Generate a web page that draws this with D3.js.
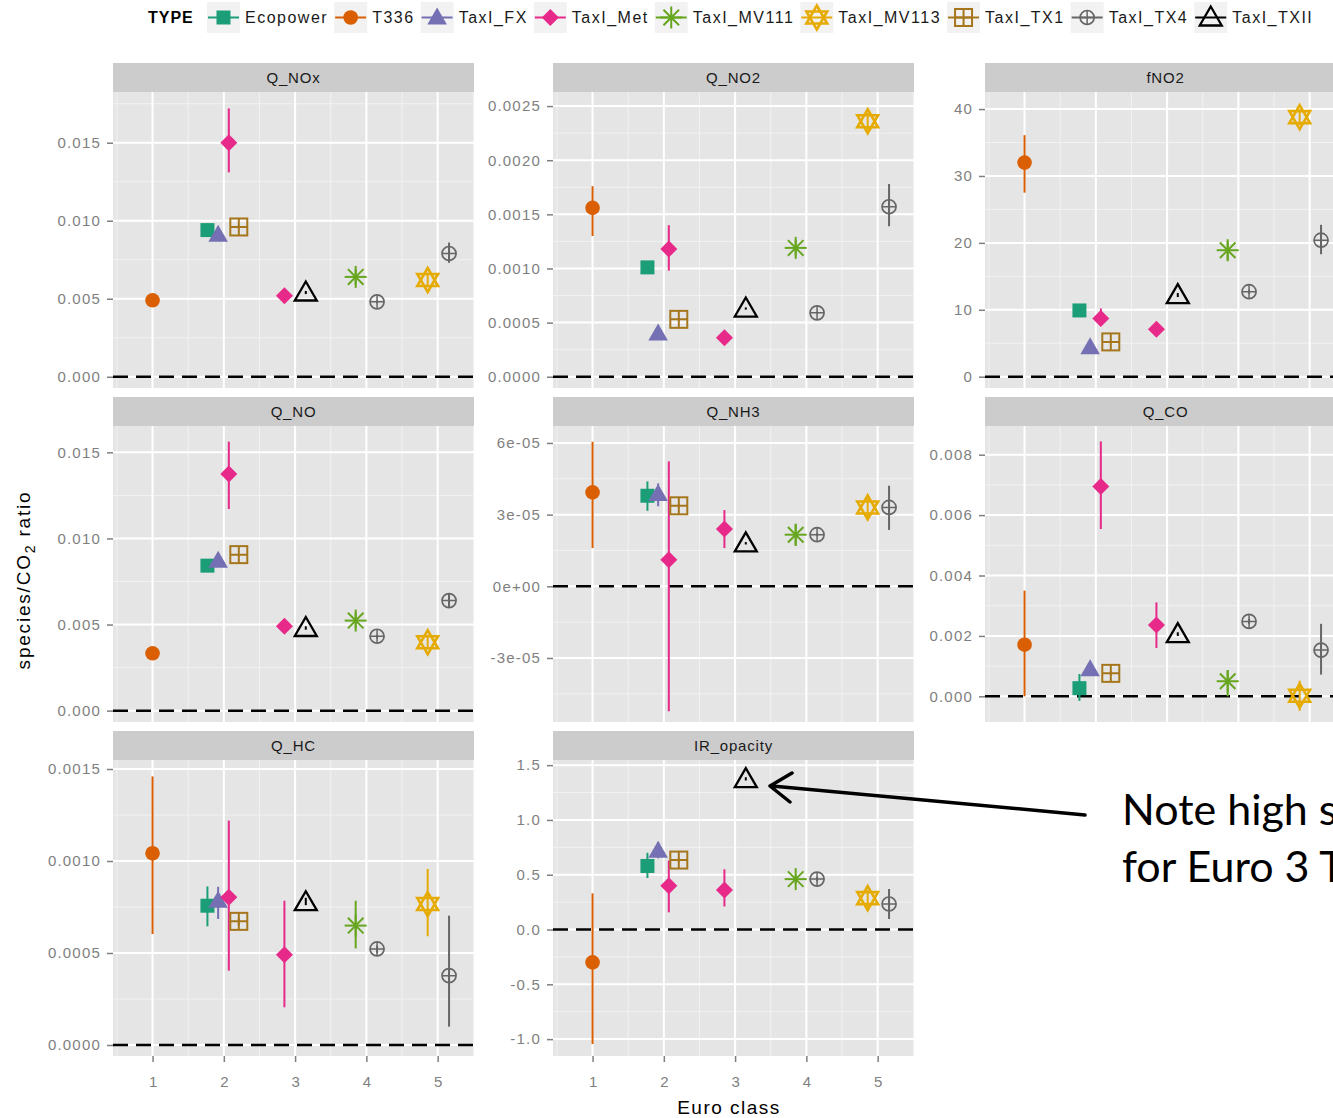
<!DOCTYPE html>
<html>
<head>
<meta charset="utf-8">
<script src="https://d3js.org/d3.v7.min.js"></script>
<style>
  body { margin: 0; background: #fff; }
  svg { display: block; }
</style>
</head>
<body>
<svg id="chart" width="1333" height="1118"></svg>
<script>
// ---- data ----
const TYPES = ["Ecopower", "T336", "TaxI_FX", "TaxI_Met", "TaxI_MV111", "TaxI_MV113", "TaxI_TX1", "TaxI_TX4", "TaxI_TXII"];
const TYPE_COLORS = ["#1B9E77", "#D95F02", "#7570B3", "#E7298A", "#66A61E", "#E6AB02", "#A6761D", "#666666", "#000000"];

const EURO_CLASSES = [1, 2, 3, 4, 5];

// one entry per plotted point (type, euro class, dodge offset)
const POINT_TYPE  = ["T336", "Ecopower", "TaxI_FX", "TaxI_Met", "TaxI_TX1", "TaxI_Met", "TaxI_TXII", "TaxI_MV111", "TaxI_TX4", "TaxI_MV113", "TaxI_TX4"];
const POINT_EURO  = [1, 2, 2, 2, 2, 3, 3, 4, 4, 5, 5];
const POINT_DODGE = [0, -0.23, -0.08, 0.07, 0.21, -0.15, 0.15, -0.15, 0.15, -0.14, 0.16];

const PANELS = ["Q_NOx", "Q_NO2", "fNO2", "Q_NO", "Q_NH3", "Q_CO", "Q_HC", "IR_opacity"];
const PANEL_DOMAINS = [
  [-0.00072, 0.01825], [-0.000104, 0.00263], [-1.69, 42.55],
  [-0.00066, 0.01653], [-5.68e-5, 6.71e-5], [-0.00085, 0.00895],
  [-0.0000598, 0.001549], [-1.154, 1.547]
];
const PANEL_TICKS = [
  [0, 0.005, 0.010, 0.015],
  [0, 0.0005, 0.0010, 0.0015, 0.0020, 0.0025],
  [0, 10, 20, 30, 40],
  [0, 0.005, 0.010, 0.015],
  [-3e-5, 0, 3e-5, 6e-5],
  [0, 0.002, 0.004, 0.006, 0.008],
  [0, 0.0005, 0.0010, 0.0015],
  [-1.0, -0.5, 0.0, 0.5, 1.0, 1.5]
];
const PANEL_TICK_LABELS = [
  ["0.000", "0.005", "0.010", "0.015"],
  ["0.0000", "0.0005", "0.0010", "0.0015", "0.0020", "0.0025"],
  ["0", "10", "20", "30", "40"],
  ["0.000", "0.005", "0.010", "0.015"],
  ["-3e-05", "0e+00", "3e-05", "6e-05"],
  ["0.000", "0.002", "0.004", "0.006", "0.008"],
  ["0.0000", "0.0005", "0.0010", "0.0015"],
  ["-1.0", "-0.5", "0.0", "0.5", "1.0", "1.5"]
];

// values in POINT_* order
const Q_NOx_mean = [0.0049, 0.0094, 0.0091, 0.0150, 0.0096, 0.0052, 0.0054, 0.0064, 0.0048, 0.0062, 0.0079];
const Q_NOx_lo   = [0.0048, 0.0093, 0.0090, 0.0131, 0.0095, 0.0051, 0.0053, 0.0059, 0.0047, 0.0058, 0.0073];
const Q_NOx_hi   = [0.0050, 0.0095, 0.0092, 0.0172, 0.0097, 0.0053, 0.0055, 0.0069, 0.0049, 0.0066, 0.0086];

const Q_NO2_mean = [0.00156, 0.00101, 0.00040, 0.00118, 0.00053, 0.00036, 0.00063, 0.00119, 0.00059, 0.00236, 0.00157];
const Q_NO2_lo   = [0.00130, 0.00098, 0.00038, 0.00098, 0.00052, 0.00035, 0.00062, 0.00112, 0.00058, 0.00228, 0.00139];
const Q_NO2_hi   = [0.00176, 0.00106, 0.00042, 0.00140, 0.00054, 0.00037, 0.00064, 0.00126, 0.00060, 0.00244, 0.00178];

const fNO2_mean = [32.0, 9.9, 4.4, 8.7, 5.2, 7.1, 12.2, 18.9, 12.7, 38.8, 20.4];
const fNO2_lo   = [27.5, 9.6, 4.2, 7.6, 5.0, 6.8, 11.9, 17.4, 12.4, 37.6, 18.3];
const fNO2_hi   = [36.1, 10.2, 4.6, 10.2, 5.4, 7.4, 12.5, 20.2, 13.0, 40.0, 22.7];

const Q_NO_mean = [0.00333, 0.00842, 0.0087, 0.01374, 0.00906, 0.0049, 0.0048, 0.00523, 0.00432, 0.00397, 0.00639];
const Q_NO_lo   = [0.0032, 0.0083, 0.0086, 0.01171, 0.0090, 0.0048, 0.0047, 0.0048, 0.0042, 0.0036, 0.0060];
const Q_NO_hi   = [0.0035, 0.0085, 0.0088, 0.01562, 0.0091, 0.0050, 0.0049, 0.0057, 0.0044, 0.0043, 0.0068];

const Q_NH3_mean = [3.93e-5, 3.79e-5, 3.86e-5, 1.11e-5, 3.37e-5, 2.40e-5, 1.80e-5, 2.16e-5, 2.16e-5, 3.30e-5, 3.30e-5];
const Q_NH3_lo   = [1.60e-5, 3.16e-5, 3.35e-5, -5.23e-5, 3.30e-5, 1.60e-5, 1.75e-5, 1.70e-5, 2.10e-5, 2.90e-5, 2.36e-5];
const Q_NH3_hi   = [6.05e-5, 4.39e-5, 4.31e-5, 5.23e-5, 3.45e-5, 3.19e-5, 1.85e-5, 2.60e-5, 2.22e-5, 3.70e-5, 4.21e-5];

const Q_CO_mean = [0.00171, 0.00027, 0.0009, 0.00695, 0.00076, 0.00236, 0.00206, 0.0005, 0.00248, 0.00002, 0.00153];
const Q_CO_lo   = [0.0, -0.00015, 0.0007, 0.00554, 0.0007, 0.0016, 0.0020, 0.0, 0.0024, -0.00048, 0.00072];
const Q_CO_hi   = [0.0035, 0.00074, 0.0011, 0.00844, 0.00082, 0.00311, 0.00212, 0.00087, 0.00256, 0.00052, 0.0024];

const Q_HC_mean = [0.001042, 0.000757, 0.000784, 0.000803, 0.000672, 0.000491, 0.000776, 0.000649, 0.000522, 0.000766, 0.000377];
const Q_HC_lo   = [0.000603, 0.000645, 0.000685, 0.000404, 0.00065, 0.000205, 0.00076, 0.000525, 0.0005, 0.000591, 0.0000996];
const Q_HC_hi   = [0.00146, 0.000862, 0.00086, 0.00122, 0.00069, 0.000784, 0.00080, 0.000784, 0.00054, 0.000957, 0.000703];

const IR_opacity_mean = [-0.30, 0.58, 0.72, 0.40, 0.634, 0.36, 1.373, 0.46, 0.46, 0.287, 0.233];
const IR_opacity_lo   = [-1.045, 0.47, 0.65, 0.157, 0.62, 0.21, 1.36, 0.42, 0.44, 0.20, 0.096];
const IR_opacity_hi   = [0.33, 0.70, 0.80, 0.63, 0.65, 0.55, 1.39, 0.50, 0.48, 0.36, 0.37];

const PANEL_MEAN = [Q_NOx_mean, Q_NO2_mean, fNO2_mean, Q_NO_mean, Q_NH3_mean, Q_CO_mean, Q_HC_mean, IR_opacity_mean];
const PANEL_LO   = [Q_NOx_lo, Q_NO2_lo, fNO2_lo, Q_NO_lo, Q_NH3_lo, Q_CO_lo, Q_HC_lo, IR_opacity_lo];
const PANEL_HI   = [Q_NOx_hi, Q_NO2_hi, fNO2_hi, Q_NO_hi, Q_NH3_hi, Q_CO_hi, Q_HC_hi, IR_opacity_hi];

// ---- layout ----
const COL_LEFT = [113, 553, 985];
const ROW_TOP = [63, 397, 731];
const STRIP_H = 29;
const PANEL_W = 361;
const PANEL_H = 296;
const FONT = "'Liberation Sans', Arial, sans-serif";
const AXIS_GREY = "#7f7f7f";

const svg = d3.select("#chart");
const colorOf = d3.scaleOrdinal().domain(TYPES).range(TYPE_COLORS);

// ggplot-ish point shapes, drawn around 0,0
const drawShape = (sel, type) => {
  const c = colorOf(type);
  switch (type) {
    case "Ecopower":
      sel.append("rect").attr("x", -7).attr("y", -7).attr("width", 14).attr("height", 14).attr("fill", c);
      break;
    case "T336":
      sel.append("circle").attr("r", 7.3).attr("fill", c);
      break;
    case "TaxI_FX":
      sel.append("path").attr("d", "M0,-10L9.8,7L-9.8,7Z").attr("fill", c);
      break;
    case "TaxI_Met":
      sel.append("path").attr("d", "M0,-8.5L8.5,0L0,8.5L-8.5,0Z").attr("fill", c);
      break;
    case "TaxI_MV111":
      [0, 45, 90, 135].forEach(a => {
        const r = 11, dx = r * Math.cos(a * Math.PI / 180), dy = r * Math.sin(a * Math.PI / 180);
        sel.append("line").attr("x1", -dx).attr("y1", -dy).attr("x2", dx).attr("y2", dy)
          .attr("stroke", c).attr("stroke-width", 2);
      });
      break;
    case "TaxI_MV113":
      sel.append("path").attr("d", "M0,-12L10.4,6L-10.4,6Z M0,12L10.4,-6L-10.4,-6Z")
        .attr("fill", "none").attr("stroke", c).attr("stroke-width", 2.6);
      break;
    case "TaxI_TX1":
      sel.append("rect").attr("x", -8.5).attr("y", -8.5).attr("width", 17).attr("height", 17)
        .attr("fill", "none").attr("stroke", c).attr("stroke-width", 2);
      sel.append("path").attr("d", "M0,-8.5V8.5M-8.5,0H8.5").attr("stroke", c).attr("stroke-width", 2);
      break;
    case "TaxI_TX4":
      sel.append("circle").attr("r", 7).attr("fill", "none").attr("stroke", c).attr("stroke-width", 1.7);
      sel.append("path").attr("d", "M0,-7V7M-7,0H7").attr("stroke", c).attr("stroke-width", 1.5);
      break;
    default:
      sel.append("path").attr("d", "M0,-11L11,8L-11,8Z")
        .attr("fill", "none").attr("stroke", c).attr("stroke-width", 2.3).attr("stroke-linejoin", "miter");
  }
};

const x = d3.scaleLinear().domain([0.445, 5.51]).range([0, PANEL_W]);
const xMinor = EURO_CLASSES.map(e => e - 0.5).concat([EURO_CLASSES[EURO_CLASSES.length - 1] + 0.5]);

PANELS.forEach((name, i) => {
  const col = i % 3, row = Math.floor(i / 3);
  const left = COL_LEFT[col], top = ROW_TOP[row] + STRIP_H;
  const y = d3.scaleLinear().domain(PANEL_DOMAINS[i]).range([PANEL_H, 0]);
  const ticks = PANEL_TICKS[i];
  const step = ticks[1] - ticks[0];
  const yMinor = ticks.map(t => t - step / 2).concat([ticks[ticks.length - 1] + step / 2])
    .filter(v => v > PANEL_DOMAINS[i][0] && v < PANEL_DOMAINS[i][1]);

  // strip
  svg.append("rect")
    .attr("x", left).attr("y", ROW_TOP[row])
    .attr("width", PANEL_W).attr("height", STRIP_H)
    .attr("fill", "#cccccc");
  svg.append("text")
    .attr("x", left + PANEL_W / 2).attr("y", ROW_TOP[row] + STRIP_H / 2 + 5)
    .attr("text-anchor", "middle")
    .attr("font-family", FONT).attr("font-size", 15).attr("letter-spacing", 0.8)
    .attr("fill", "#1a1a1a")
    .text(name);

  const g = svg.append("g").attr("transform", `translate(${left},${top})`);
  g.append("rect").attr("width", PANEL_W).attr("height", PANEL_H).attr("fill", "#e5e5e5");

  // gridlines
  g.selectAll(".ymin").data(yMinor).enter().append("line")
    .attr("x1", 0).attr("x2", PANEL_W).attr("y1", d => y(d)).attr("y2", d => y(d))
    .attr("stroke", "#f2f2f2").attr("stroke-width", 1);
  g.selectAll(".xmin").data(xMinor).enter().append("line")
    .attr("y1", 0).attr("y2", PANEL_H).attr("x1", d => x(d)).attr("x2", d => x(d))
    .attr("stroke", "#f2f2f2").attr("stroke-width", 1);
  g.selectAll(".ymaj").data(ticks).enter().append("line")
    .attr("x1", 0).attr("x2", PANEL_W).attr("y1", d => y(d)).attr("y2", d => y(d))
    .attr("stroke", "#ffffff").attr("stroke-width", 2);
  g.selectAll(".xmaj").data(EURO_CLASSES).enter().append("line")
    .attr("y1", 0).attr("y2", PANEL_H).attr("x1", d => x(d)).attr("x2", d => x(d))
    .attr("stroke", "#ffffff").attr("stroke-width", 2);

  // zero reference
  g.append("line")
    .attr("x1", 0).attr("x2", PANEL_W).attr("y1", y(0)).attr("y2", y(0))
    .attr("stroke", "#000").attr("stroke-width", 2.5).attr("stroke-dasharray", "15,8");

  // points with error bars
  const pts = POINT_TYPE.map((t, j) => ({
    type: t, xv: POINT_EURO[j] + POINT_DODGE[j],
    mean: PANEL_MEAN[i][j], lo: PANEL_LO[i][j], hi: PANEL_HI[i][j]
  }));
  g.selectAll(".err").data(pts).enter().append("line")
    .attr("x1", d => x(d.xv)).attr("x2", d => x(d.xv))
    .attr("y1", d => y(d.lo)).attr("y2", d => y(d.hi))
    .attr("stroke", d => colorOf(d.type)).attr("stroke-width", 2);
  g.selectAll(".pt").data(pts).enter().append("g")
    .attr("transform", d => `translate(${x(d.xv)},${y(d.mean)})`)
    .each(function (d) { drawShape(d3.select(this), d.type); });

  // y axis
  const yAxis = d3.axisLeft(y).tickValues(ticks).tickFormat((d, j) => PANEL_TICK_LABELS[i][j])
    .tickSize(6).tickPadding(6);
  const ya = svg.append("g").attr("transform", `translate(${left},${top})`).call(yAxis);
  ya.select(".domain").remove();
  ya.selectAll("line").attr("stroke", AXIS_GREY).attr("stroke-width", 1.5);
  ya.selectAll("text").attr("fill", AXIS_GREY).attr("font-family", FONT)
    .attr("font-size", 15).attr("letter-spacing", 1.2);

  // x axis only under bottom row
  if (row === 2) {
    const xAxis = d3.axisBottom(x).tickValues(EURO_CLASSES).tickFormat(d3.format("d"))
      .tickSize(6).tickPadding(14);
    const xa = svg.append("g").attr("transform", `translate(${left},${top + PANEL_H})`).call(xAxis);
    xa.select(".domain").remove();
    xa.selectAll("line").attr("stroke", AXIS_GREY).attr("stroke-width", 1.5);
    xa.selectAll("text").attr("fill", AXIS_GREY).attr("font-family", FONT).attr("font-size", 15);
  }
});

// axis titles
svg.append("text")
  .attr("x", 729).attr("y", 1114)
  .attr("text-anchor", "middle")
  .attr("font-family", FONT).attr("font-size", 19).attr("letter-spacing", 1.5)
  .attr("fill", "#000")
  .text("Euro class");

const yTitle = svg.append("text")
  .attr("transform", "translate(30,580) rotate(-90)")
  .attr("text-anchor", "middle")
  .attr("font-family", FONT).attr("font-size", 19).attr("letter-spacing", 1.8)
  .attr("fill", "#000");
yTitle.append("tspan").text("species/CO");
yTitle.append("tspan").attr("font-size", 14).attr("dy", 5).text("2");
yTitle.append("tspan").attr("dy", -5).text(" ratio");

// legend
const legend = svg.append("g");
legend.append("text")
  .attr("x", 148).attr("y", 23)
  .attr("font-family", FONT).attr("font-size", 16).attr("font-weight", "bold")
  .attr("letter-spacing", 1)
  .text("TYPE");
let lx = 207;
TYPES.forEach(t => {
  const key = legend.append("g").attr("transform", `translate(${lx},0)`);
  key.append("rect").attr("x", 0).attr("y", 2).attr("width", 33).attr("height", 31).attr("fill", "#f2f2f2");
  key.append("line").attr("x1", 1).attr("x2", 32).attr("y1", 17.5).attr("y2", 17.5)
    .attr("stroke", colorOf(t)).attr("stroke-width", 2);
  drawShape(key.append("g").attr("transform", "translate(16.5,17.5)"), t);
  const label = key.append("text")
    .attr("x", 38).attr("y", 23)
    .attr("font-family", FONT).attr("font-size", 16).attr("letter-spacing", 1.5)
    .attr("fill", "#1a1a1a")
    .text(t);
  lx += 38 + label.node().getComputedTextLength() + 6;
});

// annotation (runs off the right edge, as in the source slide)
const note = svg.append("g");
note.append("path")
  .attr("d", "M1085,815L772,786M792,773L770,786L790,802")
  .attr("fill", "none").attr("stroke", "#000").attr("stroke-width", 3.5)
  .attr("stroke-linecap", "round").attr("stroke-linejoin", "round");
note.append("text").attr("x", 1122).attr("y", 825)
  .attr("font-family", "Lato, 'Open Sans', sans-serif").attr("font-size", 43).attr("fill", "#000")
  .text("Note high s");
note.append("text").attr("x", 1122).attr("y", 882)
  .attr("font-family", "Lato, 'Open Sans', sans-serif").attr("font-size", 43).attr("fill", "#000")
  .text("for Euro 3 T");
</script>
</body>
</html>
